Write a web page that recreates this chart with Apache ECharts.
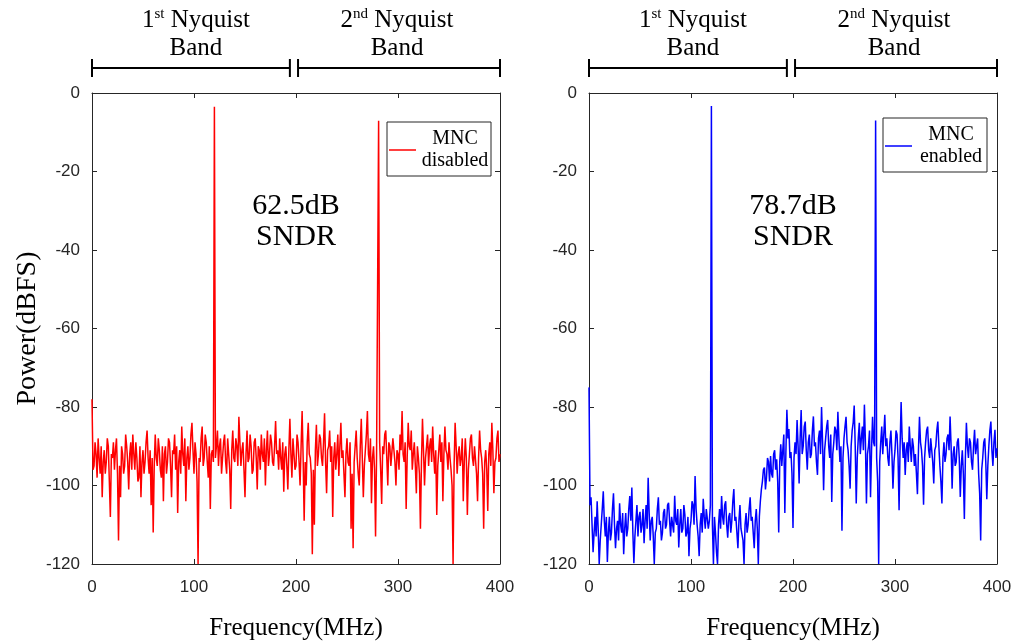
<!DOCTYPE html>
<html>
<head>
<meta charset="utf-8">
<script src="https://cdn.jsdelivr.net/npm/echarts@6/dist/echarts.min.js"></script>
<style>
  html, body { margin: 0; padding: 0; background: #fff; }
  #main { width: 1020px; height: 641px; }
</style>
</head>
<body>
<div id="main"></div>
<script>
// FFT bins, one every 1 MHz from 0 to 400 MHz
const FREQ_STEP = 1;

// MNC disabled (red)
const powerDisabled = [
  -78, -96, -95, -89, -92, -98, -88, -93, -97, -90,
  -103, -94, -91, -97, -94, -88, -90, -99, -108, -92,
  -93, -89, -96, -91, -88, -97, -114, -95, -103, -90,
  -92, -97, -95, -87, -90, -94, -101, -92, -89, -96,
  -87, -92, -96, -89, -93, -99, -98, -90, -103, -94,
  -91, -97, -94, -89, -86, -93, -97, -91, -105, -93,
  -112, -95, -87, -93, -95, -88, -91, -96, -98, -90,
  -104, -92, -90, -97, -94, -88, -89, -95, -103, -91,
  -92, -87, -96, -90, -107, -94, -91, -97, -85, -92,
  -95, -88, -104, -93, -90, -96, -93, -87, -84, -91,
  -97, -89, -92, -99, -120, -93, -94, -88, -85, -95,
  -93, -87, -89, -94, -98, -90, -106, -92, -91, -94,
  -3.5, -93, -90, -86, -95, -90, -88, -97, -93, -89,
  -87, -94, -97, -88, -92, -96, -106, -91, -86, -93,
  -94, -88, -90, -95, -82.5, -89, -95, -91, -89, -96,
  -103, -92, -86, -94, -93, -87, -90, -97, -96, -89,
  -88, -93, -101, -90, -91, -96, -87, -92, -94, -88,
  -100, -91, -86, -95, -92, -87, -89, -94, -95, -90,
  -83.6, -92, -91, -96, -88, -93, -96, -89, -101.6, -92,
  -90, -95, -101, -91, -83, -92, -98, -88, -92, -96,
  -95, -87, -89, -94, -100, -90, -81, -93, -109, -94,
  -100, -89, -84, -92, -93, -97, -117.5, -96, -110, -91,
  -84.5, -95, -92, -87, -88, -93, -95, -89, -81.6, -94,
  -102, -91, -90, -86, -94, -90, -108, -93, -89, -96,
  -92, -87, -97.6, -90, -84, -93, -91, -97, -103, -92,
  -88, -94, -95, -89, -111, -97, -116, -94, -90, -86,
  -93, -97, -100, -90, -83, -93, -103, -95, -91, -87,
  -81, -92, -94, -88, -104.5, -93, -90, -96, -113, -92,
  -92, -7.1, -89, -96, -104.7, -90, -92, -87, -86, -93,
  -100, -89, -90, -95, -95, -88, -88, -94, -100, -91,
  -92, -96, -87, -91, -81, -92, -94, -89, -106, -93,
  -84, -90, -91, -86, -96, -92, -89, -95, -102, -90,
  -93, -97, -111, -94, -83, -91, -100, -93, -90, -87,
  -95, -90, -88, -94, -85, -92, -97, -91, -107.5, -95,
  -91, -87, -94, -89, -104, -92, -85, -91, -92, -96,
  -89, -93, -96, -100, -120, -95, -84, -90, -97, -92,
  -90, -95, -93, -88, -104, -94, -88, -93, -107.5, -96,
  -92, -88, -87, -93, -95, -90, -90, -97, -104, -93,
  -86, -91, -93, -97, -111, -94, -91, -96, -106.5, -92,
  -89, -95, -84, -91, -102, -94, -93, -88, -86, -94,
  -92
];

// MNC enabled (blue)
const powerEnabled = [
  -75, -105, -103, -110, -117, -112, -108, -113, -104, -111,
  -120, -114, -110, -106, -101.5, -109, -113, -108, -119.5, -112,
  -108, -114, -112, -106, -102, -110, -116, -111, -109, -114,
  -104.5, -110, -112, -107, -117.5, -111, -107, -113, -111, -106,
  -102.7, -109, -100.5, -112, -119.8, -113, -109, -105, -113, -108,
  -106.7, -112, -110, -106, -114.7, -109, -105, -111, -98, -107,
  -114, -109, -108, -113, -120, -112, -111, -106, -103, -110,
  -109, -114, -112, -107, -106, -111, -110, -105, -104.4, -109,
  -113, -108, -108, -112, -102.6, -109, -110, -106, -115.8, -110,
  -106, -112, -111, -105, -107.5, -113, -112, -108, -118, -111,
  -109, -104, -105, -110, -97.6, -106, -110, -113, -118, -110,
  -107, -112, -103.4, -108, -111, -106, -106, -111, -109, -105,
  -3.3, -110, -120, -108, -112, -117, -120, -110, -106, -111,
  -102.7, -108, -110, -105, -104, -110, -113.3, -108, -107, -112,
  -109, -104, -100.9, -109, -108, -112, -116, -109, -105, -111,
  -111, -114, -120, -110, -107, -112, -110, -106, -103, -109,
  -108, -112, -116, -109, -106, -111, -120, -108, -104, -101,
  -99, -96, -95.4, -101, -98, -93, -94, -99, -92.5, -97,
  -98, -92, -91, -96, -93.3, -99, -112, -94, -89.5, -95,
  -91, -87, -107, -92, -80.7, -88, -85.6, -93, -91.5, -97,
  -110.8, -93, -89, -92, -83.3, -90, -99.5, -88, -80.8, -92,
  -90, -85, -83.7, -91, -96, -89, -87, -93, -92, -86,
  -82.4, -90, -89, -94, -97.3, -88, -86, -92, -80, -89,
  -101.2, -91, -88, -85, -83.3, -90, -93, -87, -104.2, -92,
  -89, -85, -86, -91, -81.2, -88, -94, -90, -111.5, -93,
  -88, -85, -82.5, -89, -91, -95, -100.8, -90, -86, -84,
  -79.6, -90, -104.6, -93, -88, -84, -92, -88, -85, -91,
  -79.4, -89, -104.6, -92, -90, -86, -103, -91, -82.5, -89,
  -90, -7, -93, -99, -120, -94, -89, -85, -92, -87,
  -82, -90, -88, -93, -95, -89, -86, -92, -100.8, -94,
  -91, -86, -87, -93, -106.3, -90, -78.7, -88, -93, -89,
  -97.3, -91, -89, -94, -85, -90, -94, -88, -90, -95,
  -92, -97, -102.2, -91, -82.5, -89, -91, -95, -104.9, -93,
  -89, -86, -85, -91, -93, -88, -88, -94, -99.5, -91,
  -90, -86, -83.7, -90, -95, -99, -104.6, -93, -89, -94,
  -92, -88, -87, -91, -82.4, -90, -100.8, -92, -90, -95,
  -94, -89, -88, -93, -102.9, -95, -91, -97, -108.5, -93,
  -84, -90, -93, -88, -89, -94, -96, -90, -85.8, -92,
  -92, -88, -97, -102, -114, -96, -93, -89, -88, -94,
  -103.5, -95, -90, -86, -83.7, -91, -95, -89, -85.8, -93,
  -90.5
];

const seriesNames = ['MNC disabled', 'MNC enabled'];
const seriesColors = ['#ff0000', '#0000ff'];
const legendLines = [['MNC', 'disabled'], ['MNC', 'enabled']];
const sndrLines = [['62.5dB', 'SNDR'], ['78.7dB', 'SNDR']];
const bandRanges = [[0, 194], [202, 400]];
const bandOrdinals = [['1', 'st'], ['2', 'nd']];

const SERIF = '"Liberation Serif", "Times New Roman", serif';
const SANS = '"Liberation Sans", Arial, sans-serif';
const INK = '#262626';

const gridLefts = [92, 589];
const legendPos = [[387, 122], [883, 118]];

function toPairs(arr) {
  return arr.map((v, i) => [i * FREQ_STEP, v]);
}

const chart = echarts.init(document.getElementById('main'));

const option = {
  animation: false,
  backgroundColor: '#fff',
  grid: [],
  xAxis: [],
  yAxis: [],
  legend: [],
  series: []
};

[0, 1].forEach(p => {
  // fixed plot box, do not let v6 shrink it to fit the axis names
  option.grid.push({left: gridLefts[p], top: 93, width: 408, height: 471, containLabel: false, outerBoundsMode: 'none'});

  const axisLine = {show: true, onZero: false, lineStyle: {color: INK, width: 1}};
  const axisTick = {show: true, inside: true, length: 5, lineStyle: {color: INK}};

  option.xAxis.push({
    gridIndex: p, type: 'value', position: 'bottom',
    min: 0, max: 400, interval: 100,
    axisLine, axisTick,
    axisLabel: {fontFamily: SANS, fontSize: 17, color: INK, margin: 15},
    splitLine: {show: false},
    name: 'Frequency(MHz)', nameLocation: 'middle', nameGap: 52,
    nameTextStyle: {fontFamily: SERIF, fontSize: 25, color: '#000'}
  });
  option.xAxis.push({
    gridIndex: p, type: 'value', position: 'top',
    min: 0, max: 400, interval: 100,
    axisLine, axisTick,
    axisLabel: {show: false}, splitLine: {show: false}
  });
  option.yAxis.push({
    gridIndex: p, type: 'value', position: 'left',
    min: -120, max: 0, interval: 20,
    axisLine, axisTick,
    axisLabel: {fontFamily: SANS, fontSize: 17, color: INK, margin: 12},
    splitLine: {show: false},
    name: p === 0 ? 'Power(dBFS)' : '', nameLocation: 'middle', nameGap: 46,
    nameTextStyle: {fontFamily: SERIF, fontSize: 28, color: '#000'}
  });
  option.yAxis.push({
    gridIndex: p, type: 'value', position: 'right',
    min: -120, max: 0, interval: 20,
    axisLine, axisTick,
    axisLabel: {show: false}, splitLine: {show: false}
  });

  option.series.push({
    name: seriesNames[p],
    type: 'line',
    xAxisIndex: 2 * p,
    yAxisIndex: 2 * p,
    symbol: 'none',
    clip: true,
    color: seriesColors[p],
    lineStyle: {width: 1.5, color: seriesColors[p]},
    data: toPairs(p === 0 ? powerDisabled : powerEnabled)
  });

  option.legend.push({
    data: [seriesNames[p]],
    left: legendPos[p][0], top: legendPos[p][1],
    orient: 'vertical',
    icon: 'rect',
    itemWidth: 27, itemHeight: 1.5,
    padding: [7, 2, 5, 2],
    borderColor: INK, borderWidth: 1, borderRadius: 0,
    backgroundColor: '#fff',
    selectedMode: false,
    formatter: () => '{t|' + legendLines[p][0] + '}\n{t|' + legendLines[p][1] + '}',
    textStyle: {
      rich: {t: {width: 68, align: 'center', fontFamily: SERIF, fontSize: 20, lineHeight: 22, color: '#000'}}
    }
  });
});

chart.setOption(option);

// band brackets above the plots and the SNDR notes, placed through the axes
const graphics = [];
[0, 1].forEach(p => {
  const px = v => chart.convertToPixel({xAxisIndex: 2 * p}, v);
  const py = v => chart.convertToPixel({yAxisIndex: 2 * p}, v);

  bandRanges.forEach((r, b) => {
    const x0 = px(r[0]), x1 = px(r[1]);
    const lineStyle = {stroke: '#000', lineWidth: 2};
    graphics.push({type: 'line', shape: {x1: x0, y1: 68, x2: x1, y2: 68}, style: lineStyle});
    graphics.push({type: 'line', shape: {x1: x0, y1: 59, x2: x0, y2: 77}, style: lineStyle});
    graphics.push({type: 'line', shape: {x1: x1, y1: 59, x2: x1, y2: 77}, style: lineStyle});
    const cx = (x0 + x1) / 2 + (b === 0 ? 5 : -2);
    graphics.push({
      type: 'text',
      style: {
        x: cx, y: 20, align: 'center', verticalAlign: 'middle',
        text: '{n|' + bandOrdinals[b][0] + '}{s|' + bandOrdinals[b][1] + '}{n| Nyquist}',
        rich: {
          n: {fontFamily: SERIF, fontSize: 25, fill: '#000', lineHeight: 27},
          s: {fontFamily: SERIF, fontSize: 15, fill: '#000', verticalAlign: 'top', lineHeight: 27}
        }
      }
    });
    graphics.push({
      type: 'text',
      style: {x: cx, y: 48, align: 'center', verticalAlign: 'middle', text: 'Band',
        fontFamily: SERIF, fontSize: 25, fill: '#000'}
    });
  });

  graphics.push({
    type: 'text',
    style: {x: px(200), y: py(-28.8), align: 'center', verticalAlign: 'middle', text: sndrLines[p][0],
      fontFamily: SERIF, fontSize: 30, fill: '#000'}
  });
  graphics.push({
    type: 'text',
    style: {x: px(200), y: py(-36.8), align: 'center', verticalAlign: 'middle', text: sndrLines[p][1],
      fontFamily: SERIF, fontSize: 30, fill: '#000'}
  });
});

chart.setOption({graphic: graphics});
</script>
</body>
</html>
